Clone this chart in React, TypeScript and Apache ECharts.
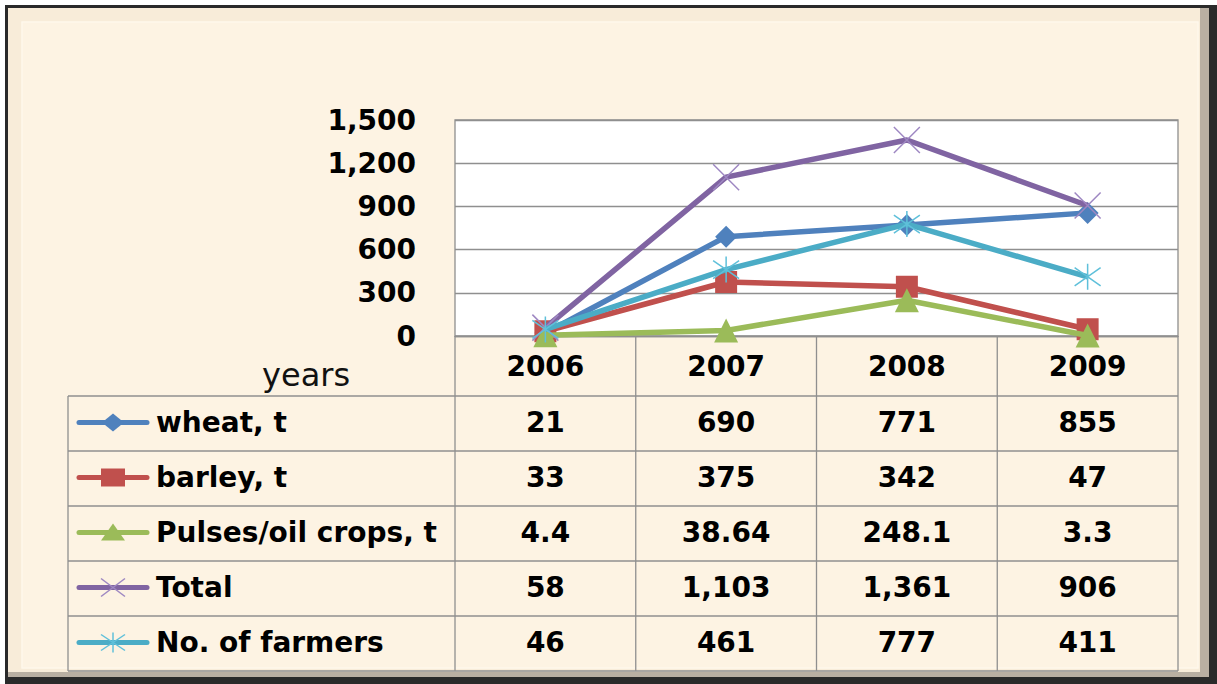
import { useEffect, useRef } from 'react';
import * as echarts from 'echarts';

const years = ['2006', '2007', '2008', '2009'];
const seriesNames = ['wheat, t', 'barley, t', 'Pulses/oil crops, t', 'Total', 'No. of farmers'];
const wheat = [21, 690, 771, 855];
const barley = [33, 375, 342, 47];
const pulses = [4.4, 38.64, 248.1, 3.3];
const total = [58, 1103, 1361, 906];
const farmers = [46, 461, 777, 411];
const yMin = 0;
const yMax = 1500;
const yInterval = 300;
const axisTitle = 'years';

const seriesData = [wheat, barley, pulses, total, farmers];
const colors = ['#4F81BD', '#C0504D', '#9BBB59', '#8064A2', '#4BACC6'];
const markerColors = ['#4F81BD', '#C0504D', '#9BBB59', '#9E87C2', '#5FC0DA'];

const W = 1217;
const H = 684;
const G = { left: 455, top: 120, width: 723, height: 216 };
const TABLE_LEFT = 68;
const ROW_TOP = 396;
const ROW_H = 55;
const FONT = '"DejaVu Sans", Verdana, sans-serif';
const GRID_COLOR = '#8F8F8F';
const CREAM = '#FDF3E3';
const FS = 28;

const X_PATH = 'path://M0 0L10 10M10 0L0 10';
const STAR_PATH = 'path://M5 0L5 10M0 1.5L10 8.5M10 1.5L0 8.5';

const fmt = (v: number) => v.toLocaleString('en-US', { maximumFractionDigits: 2 });

function legendKey(i: number, cy: number): any[] {
  const c = colors[i];
  const mc = markerColors[i];
  const cx = 113;
  const els: any[] = [
    { type: 'line', z: 20, shape: { x1: 79, y1: cy, x2: 147, y2: cy }, style: { stroke: c, lineWidth: 5, lineCap: 'round' } },
  ];
  if (i === 0) {
    els.push({ type: 'polygon', z: 21, shape: { points: [[cx - 11, cy], [cx, cy - 9], [cx + 11, cy], [cx, cy + 9]] }, style: { fill: c } });
  } else if (i === 1) {
    els.push({ type: 'rect', z: 21, shape: { x: cx - 12, y: cy - 9, width: 24, height: 18 }, style: { fill: c } });
  } else if (i === 2) {
    els.push({ type: 'polygon', z: 21, shape: { points: [[cx - 12, cy + 8], [cx, cy - 9], [cx + 12, cy + 8]] }, style: { fill: c } });
  } else if (i === 3) {
    els.push({ type: 'line', z: 21, shape: { x1: cx - 12, y1: cy - 9, x2: cx + 12, y2: cy + 9 }, style: { stroke: mc, lineWidth: 1.5 } });
    els.push({ type: 'line', z: 21, shape: { x1: cx - 12, y1: cy + 9, x2: cx + 12, y2: cy - 9 }, style: { stroke: mc, lineWidth: 1.5 } });
  } else {
    els.push({ type: 'line', z: 21, shape: { x1: cx, y1: cy - 10, x2: cx, y2: cy + 10 }, style: { stroke: mc, lineWidth: 1.5 } });
    els.push({ type: 'line', z: 21, shape: { x1: cx - 12, y1: cy - 8, x2: cx + 12, y2: cy + 8 }, style: { stroke: mc, lineWidth: 1.5 } });
    els.push({ type: 'line', z: 21, shape: { x1: cx - 12, y1: cy + 8, x2: cx + 12, y2: cy - 8 }, style: { stroke: mc, lineWidth: 1.5 } });
  }
  return els;
}

export default function App() {
  const ref = useRef<HTMLDivElement>(null);

  useEffect(() => {
    if (!ref.current) return;
    const chart = echarts.init(ref.current, undefined, { renderer: 'svg' });

    const colW = G.width / years.length;
    const nRows = seriesNames.length;
    const tableBottom = ROW_TOP + nRows * ROW_H;

    const graphics: any[] = [];
    // frame
    graphics.push({ type: 'rect', z: -10, silent: true, shape: { x: 5, y: 5, width: 1212, height: 679 }, style: { fill: '#2a2a2a' } });
    graphics.push({ type: 'rect', z: -10, silent: true, shape: { x: 8, y: 8, width: 1201, height: 669 }, style: { fill: '#B9AFA2' } });
    graphics.push({ type: 'rect', z: -10, silent: true, shape: { x: 8, y: 8, width: 1192, height: 664 }, style: { fill: '#F8ECD9' } });
    graphics.push({ type: 'rect', z: -10, silent: true, shape: { x: 22, y: 22, width: 1176, height: 646 }, style: { fill: CREAM, stroke: '#FEF7EC', lineWidth: 1.5 } });

    // table horizontal lines
    for (let r = 0; r <= nRows; r++) {
      const y = ROW_TOP + r * ROW_H;
      graphics.push({ type: 'line', z: 5, silent: true, shape: { x1: TABLE_LEFT, y1: y, x2: G.left + G.width, y2: y }, style: { stroke: GRID_COLOR, lineWidth: 1.3 } });
    }
    // table vertical lines
    graphics.push({ type: 'line', z: 5, silent: true, shape: { x1: TABLE_LEFT, y1: ROW_TOP, x2: TABLE_LEFT, y2: tableBottom }, style: { stroke: GRID_COLOR, lineWidth: 1.3 } });
    for (let c = 0; c <= years.length; c++) {
      const x = G.left + c * colW;
      graphics.push({ type: 'line', z: 5, silent: true, shape: { x1: x, y1: G.top + G.height, x2: x, y2: tableBottom }, style: { stroke: GRID_COLOR, lineWidth: 1.3 } });
    }
    // axis title
    graphics.push({
      type: 'text', z: 20, silent: true,
      style: { text: axisTitle, x: 262, y: 375, textAlign: 'left', textVerticalAlign: 'middle', font: `normal 32px ${FONT}`, fill: '#111' },
    });
    // rows
    seriesNames.forEach((name, i) => {
      const cy = ROW_TOP + i * ROW_H + ROW_H / 2 - 1;
      graphics.push(...legendKey(i, cy));
      graphics.push({
        type: 'text', z: 20, silent: true,
        style: { text: name, x: 156, y: cy, textAlign: 'left', textVerticalAlign: 'middle', font: `bold ${FS}px ${FONT}`, fill: '#000' },
      });
      seriesData[i].forEach((v, j) => {
        graphics.push({
          type: 'text', z: 20, silent: true,
          style: { text: fmt(v), x: G.left + colW * (j + 0.5), y: cy, textAlign: 'center', textVerticalAlign: 'middle', font: `bold ${FS}px ${FONT}`, fill: '#000' },
        });
      });
    });

    const symbols = ['diamond', 'rect', 'triangle', X_PATH, STAR_PATH];
    const symbolSizes = [22, 22, 24, 26, 26];

    const series = seriesNames.map((name, i) => {
      const isStroke = i >= 3;
      return {
        name,
        type: 'line',
        data: seriesData[i],
        symbol: symbols[i],
        symbolSize: symbolSizes[i],
        showAllSymbol: true,
        z: 3 + i,
        lineStyle: { color: colors[i], width: 5.5 },
        itemStyle: isStroke
          ? { color: 'none', borderColor: markerColors[i], borderWidth: 1.5 }
          : { color: colors[i], borderWidth: 0 },
        emphasis: { disabled: true },
      };
    });

    chart.setOption({
      animation: false,
      backgroundColor: '#ffffff',
      grid: {
        left: G.left, top: G.top, width: G.width, height: G.height,
        show: true, backgroundColor: '#ffffff', borderColor: GRID_COLOR, borderWidth: 1.3,
        containLabel: false,
      },
      xAxis: {
        type: 'category',
        data: years,
        boundaryGap: true,
        axisLine: { show: true, lineStyle: { color: GRID_COLOR, width: 1.3 } },
        axisTick: { show: false },
        axisLabel: {
          margin: 30, verticalAlign: 'middle',
          fontFamily: FONT, fontWeight: 'bold', fontSize: FS, color: '#000',
        },
      },
      yAxis: {
        type: 'value',
        min: yMin, max: yMax, interval: yInterval,
        axisLine: { show: false },
        axisTick: { show: false },
        splitLine: { show: true, lineStyle: { color: GRID_COLOR, width: 1.3 } },
        axisLabel: {
          margin: 39,
          fontFamily: FONT, fontWeight: 'bold', fontSize: FS, color: '#000',
          formatter: (v: number) => fmt(v),
        },
      },
      graphic: { elements: graphics },
      series,
    });

    return () => chart.dispose();
  }, []);

  return <div ref={ref} style={{ position: 'fixed', left: 0, top: 0, width: W, height: H }} />;
}
